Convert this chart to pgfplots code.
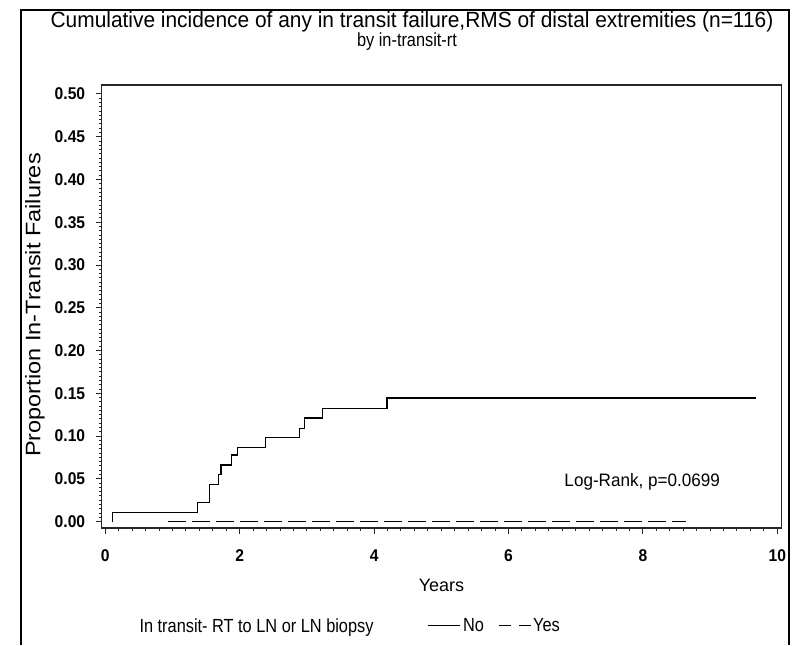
\documentclass[border=0pt]{standalone}
\usepackage{pgfplots}
\pgfplotsset{compat=1.18}
\usepackage{fontspec}
\setmainfont{Liberation Sans}
\newfontfamily\cond[FakeStretch=0.95]{Liberation Sans}
\newfontfamily\narrow[FakeStretch=0.86]{Liberation Sans}
\newfontfamily\wide[FakeStretch=1.12]{Liberation Sans}
\newfontfamily\tickf[FakeStretch=0.92]{Liberation Sans}
\begin{document}
\begin{tikzpicture}[x=1pt,y=1pt]
\useasboundingbox (0,0) rectangle (792,645);
\draw[line width=2pt] (21,0) -- (21,635) -- (789,635) -- (789,0);
\node[font=\cond\fontsize{22}{24}\selectfont] at (412,623) {Cumulative incidence of any in transit failure,RMS of distal extremities (n=116)};
\node[font=\narrow\fontsize{19}{21}\selectfont] at (407,603) {by in-transit-rt};
\node[font=\wide\fontsize{21}{23}\selectfont, rotate=90] at (35,340) {Proportion In-Transit Failures};
\node[font=\fontsize{18}{20}\selectfont] at (441.5,60) {Years};
\node[font=\narrow\fontsize{19}{21}\selectfont, anchor=west] at (136,17) {In transit- RT to LN or LN biopsy};
\begin{axis}[
  at={(101.7pt,117pt)}, anchor=south west,
  scale only axis, width=679.6pt, height=443pt,
  xmin=-0.054, xmax=10.06, ymin=-0.0075, ymax=0.5105,
  xtick={0,2,4,6,8,10},
  ytick={0,0.05,0.10,0.15,0.20,0.25,0.30,0.35,0.40,0.45,0.50},
  minor x tick num=9, minor y tick num=9,
  tick align=outside, xtick pos=lower, ytick pos=left,
  major tick length=6pt, minor tick length=3pt,
  axis line style={black!85, line width=1.2pt},
  every tick/.style={black!85, line width=1pt},
  /pgf/number format/assume math mode=true,
  ticklabel style={font=\tickf\bfseries\fontsize{17}{19}\selectfont},
  yticklabel style={xshift=-7pt, /pgf/number format/.cd, fixed, fixed zerofill, precision=2},
  xticklabel style={yshift=-12pt, /pgf/number format/.cd, fixed, precision=0},
  legend columns=2,
  legend style={draw=none, fill=none, at={(0.475,-0.22)}, anchor=west,
    font=\narrow\fontsize{19}{21}\selectfont,
    /tikz/every even column/.append style={column sep=12pt}},
  legend image code/.code={\draw[#1] (0pt,0pt) -- (32pt,0pt);},
]
\addplot[const plot, black, line width=1.3pt] coordinates {
(0.11,0) (0.11,0.0105) (1.375,0.0222) (1.548,0.0437) (1.68,0.0554)
(1.72,0.0663) (1.88,0.0777) (1.97,0.0870) (2.38,0.0983) (2.89,0.1088)
(2.96,0.121) (3.23,0.132) (4.19,0.1444) (9.68,0.1444)};
\addlegendentry{No}
\addplot[black, line width=1.3pt, dash pattern=on 18pt off 6pt,
  legend image post style={dash pattern=on 12pt off 8pt}] coordinates {(0.94,0) (8.64,0)};
\addlegendentry{Yes}
\node[font=\cond\fontsize{18}{20}\selectfont] at (axis cs:7.99,0.046) {Log-Rank, p=0.0699};
\end{axis}
\end{tikzpicture}
\end{document}
